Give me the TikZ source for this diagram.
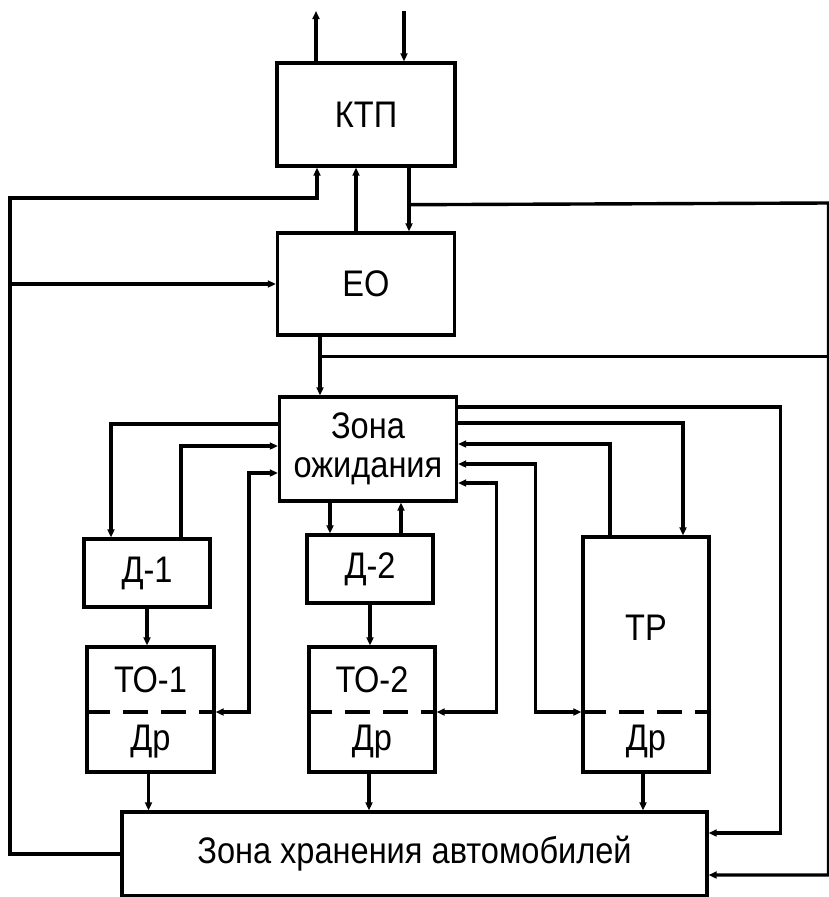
\documentclass[tikz,border=0pt]{standalone}
\usepackage{fontspec}
\setmainfont{Liberation Sans}[FakeStretch=0.88]
\usetikzlibrary{arrows.meta,positioning}

\begin{document}
\begin{tikzpicture}[x=1pt, y=-1pt, line width=3.4pt,
    blk/.style={draw, inner sep=0pt, font=\fontsize{37}{39}\selectfont, align=center},
    lbl/.style={inner sep=0pt, font=\fontsize{37}{39}\selectfont},
    arr/.style={-{Triangle[length=8pt,width=7pt]}},
    arr2/.style={{Triangle[length=8pt,width=7pt]}-{Triangle[length=8pt,width=7pt]}},
    split/.style={dash pattern=on 25pt off 13pt}]
    \useasboundingbox (0,0) rectangle (828,897);

    % boxes
    \node[blk, minimum width=178pt, minimum height=103pt] (ktp) at (366,114.5) {КТП};
    \node[blk, minimum width=177pt, minimum height=102pt] (eo) at (366,284) {ЕО};
    \node[blk, minimum width=177pt, minimum height=104pt] (zo) at (368,449) {Зона\\ожидания};
    \node[blk, minimum width=126pt, minimum height=68pt] (d1) at (147,573) {Д-1};
    \node[blk, minimum width=126pt, minimum height=68pt] (d2) at (370,569) {Д-2};
    \node[blk, minimum width=127pt, minimum height=125pt] (to1) at (150.5,709.5) {};
    \node[blk, minimum width=126pt, minimum height=125pt] (to2) at (372,709.5) {};
    \node[blk, minimum width=126pt, minimum height=235pt] (tr) at (646,654.5) {};
    \node[blk, minimum width=585pt, minimum height=84pt] (zx) at (414.5,854) {Зона хранения автомобилей};

    % texts inside the split boxes
    \node[lbl] (to1t) at (150.5,680) {ТО-1};
    \node[lbl] (to1d) at (150.5,742) {Др};
    \node[lbl] (to2t) at (372,680) {ТО-2};
    \node[lbl] (to2d) at (372,742) {Др};
    \node[lbl] (trt) at (646,628) {ТР};
    \node[lbl] (trd) at (646,742) {Др};
    \draw[split] ([yshift=-2.5pt]to1.west) -- ([yshift=-2.5pt]to1.east);
    \draw[split] ([yshift=-2.5pt]to2.west) -- ([yshift=-2.5pt]to2.east);
    \draw[split] ([yshift=-57.5pt]tr.west) -- ([yshift=-57.5pt]tr.east);

    % free ends and turning points
    \coordinate (topout) at (316,11);
    \coordinate (topin) at (404,11);
    \coordinate (lft) at (10,198);
    \coordinate (rgt) at (828.5,203);

    % KTP and EO
    \draw[arr] (topout |- ktp.north) -- (topout);
    \draw[arr] (topin) -- (topin |- ktp.north);
    \draw[arr] (zx.west) -| (lft) -| ([xshift=-49pt]ktp.south);
    \draw[arr] (lft |- eo.west) -- (eo.west);
    \draw[arr] ([xshift=-10pt]eo.north) -- ([xshift=-10pt]eo.north |- ktp.south);
    \draw[arr] ([xshift=43pt]ktp.south) -- ([xshift=43pt]ktp.south |- eo.north);
    \draw[arr] ([xshift=43pt]ktp.south) ++(0,37) -- (rgt) |- ([yshift=-21pt]zx.east);
    \draw[arr] ([xshift=-46pt]eo.south) -- ([xshift=-46pt]eo.south |- zo.north);
    \draw ([xshift=-46pt]eo.south) ++(0,20) -| (rgt);

    % waiting zone
    \draw[arr] ([yshift=25pt]zo.west) -| ([xshift=-36pt]d1.north);
    \draw[arr] ([xshift=34pt]d1.north) |- ([yshift=3pt]zo.west);
    \draw[arr2] ([yshift=-24pt]zo.west) -- ++(-29,0) |- ([yshift=-2.5pt]to1.east);
    \draw[arr] ([xshift=-38pt]zo.south) -- ([xshift=-38pt]zo.south |- d2.north);
    \draw[arr] ([xshift=33pt]zo.south |- d2.north) -- ([xshift=33pt]zo.south);
    \draw[arr] ([yshift=42pt]zo.east) -- ++(322,0) |- ([yshift=21pt]zx.east);
    \draw[arr] ([yshift=26pt]zo.east) -| ([xshift=37pt]tr.north);
    \draw[arr] ([xshift=-36pt]tr.north) |- ([yshift=5pt]zo.east);
    \draw[arr2] ([yshift=-15pt]zo.east) -- ++(77.5,0) |- ([yshift=-57.5pt]tr.west);
    \draw[arr2] ([yshift=-34pt]zo.east) -- ++(38.5,0) |- ([yshift=-2.5pt]to2.east);

    % down to storage
    \draw[arr] (d1.south) -- (d1.south |- to1.north);
    \draw[arr] (d2.south) -- (d2.south |- to2.north);
    \draw[arr] ([xshift=-2pt]to1.south) -- ([xshift=-2pt]to1.south |- zx.north);
    \draw[arr] ([xshift=-3pt]to2.south) -- ([xshift=-3pt]to2.south |- zx.north);
    \draw[arr] ([xshift=-3pt]tr.south) -- ([xshift=-3pt]tr.south |- zx.north);
\end{tikzpicture}
\end{document}
